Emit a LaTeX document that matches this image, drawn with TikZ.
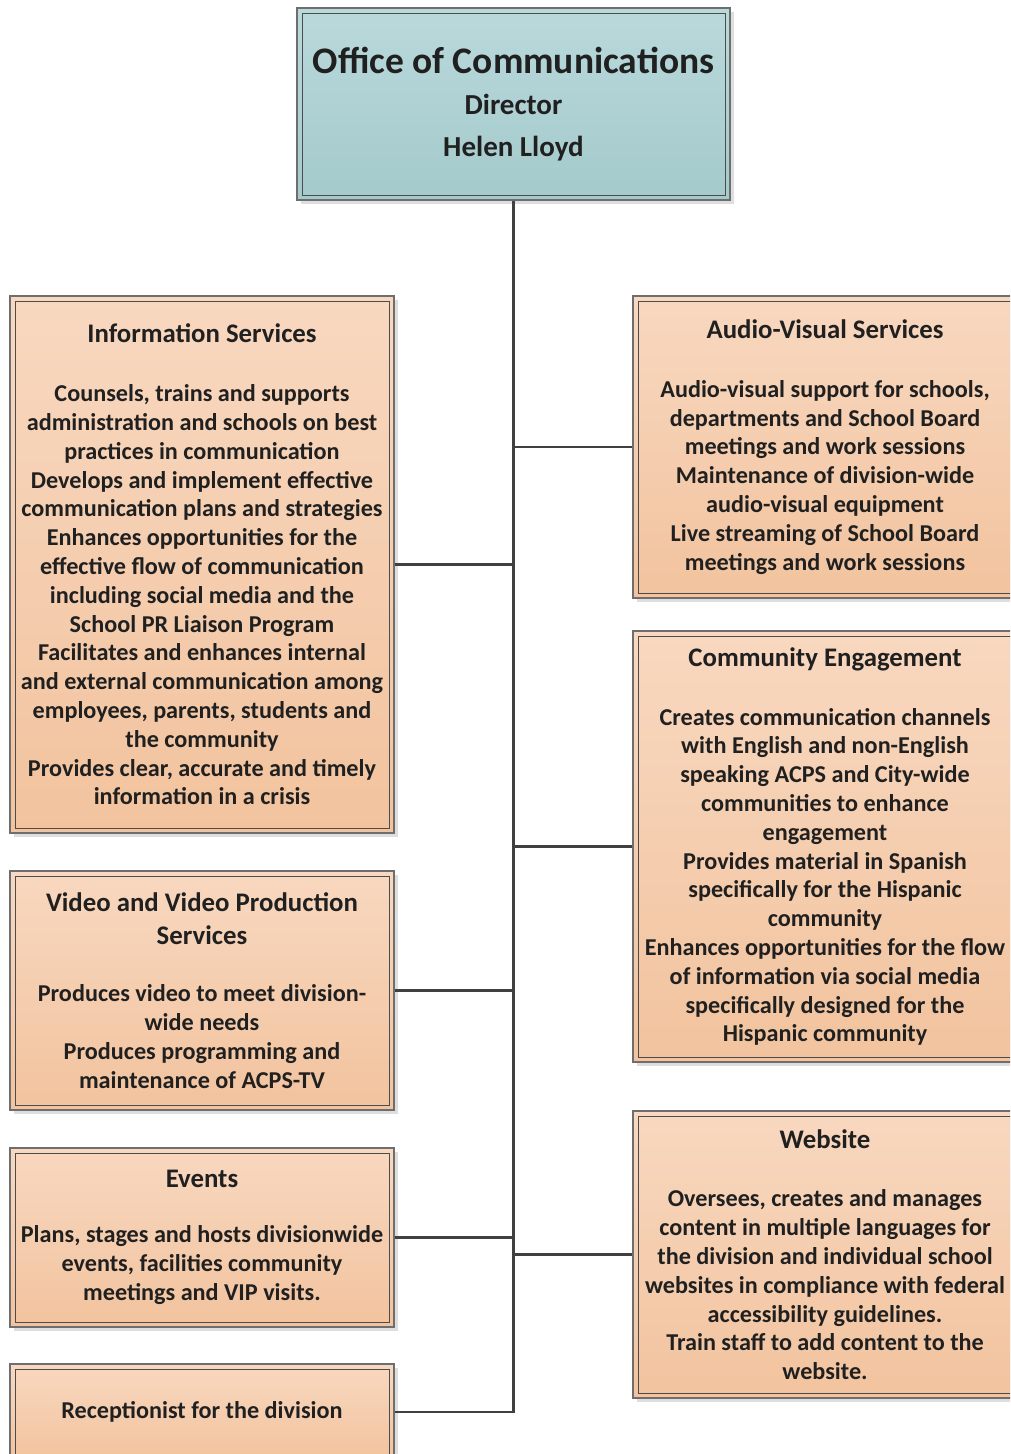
\documentclass[tikz,border=0pt]{standalone}
\usepackage{fontspec}
\setmainfont{Carlito}
\usetikzlibrary{positioning,calc,shadows}
\definecolor{TealTop}{RGB}{186,217,219}
\definecolor{TealBot}{RGB}{164,202,204}
\definecolor{PeachTop}{RGB}{248,216,192}
\definecolor{PeachBot}{RGB}{242,195,158}
\definecolor{EdgeGray}{RGB}{110,110,110}
\definecolor{LinkGray}{RGB}{64,64,64}
\definecolor{InkGray}{RGB}{32,32,32}
\newcommand\ttl[1]{{\fontsize{26.8}{28.8}\selectfont #1}}
\tikzset{
  framed/.style={rectangle,draw=EdgeGray,line width=1.5pt,inner sep=0pt,
    align=center,text=InkGray,
    general shadow={fill=black!13,shadow xshift=4pt,shadow yshift=-4pt},
    path picture={\draw[black!70,line width=1pt]
      ([shift={(5,5)}]path picture bounding box.north west) rectangle
      ([shift={(-5,-5)}]path picture bounding box.south east);}},
  unit/.style={framed,top color=PeachTop,bottom color=PeachBot,
    minimum width=384pt,font=\bfseries\fontsize{24.2}{28.8}\selectfont},
  head/.style={framed,top color=TealTop,bottom color=TealBot,
    minimum width=433pt,minimum height=192pt,
    font=\bfseries\fontsize{29}{41.5}\selectfont},
  link/.style={draw=LinkGray,line width=2.3pt},
}
\begin{document}
\begin{tikzpicture}[x=1pt,y=-1pt]
\clip (0,0) rectangle (1010,1454);
\node[head] (top) at (513.5,104) {{\fontsize{37.5}{41.5}\selectfont Office of Communications}\\Director\\Helen Lloyd};

\node[unit,minimum height=537pt] (info) at (202,564.5) {\ttl{Information Services}\\[30pt]
Counsels, trains and supports\\administration and schools on best\\practices in communication\\
Develops and implement effective\\communication plans and strategies\\
Enhances opportunities for the\\effective flow of communication\\including social media and the\\School PR Liaison Program\\
Facilitates and enhances internal\\and external communication among\\employees, parents, students and\\the community\\
Provides clear, accurate and timely\\information in a crisis};
\node[unit,minimum height=239pt] (video) at (202,990.5) {\ttl{Video and Video Production}\\[4pt]\ttl{Services}\\[29pt]
Produces video to meet division-\\wide needs\\Produces programming and\\maintenance of ACPS-TV};
\node[unit,minimum height=179pt] (events) at (202,1237.5) {\ttl{Events}\\[26pt]
Plans, stages and hosts divisionwide\\events, facilities community\\meetings and VIP visits.};
\node[unit,minimum height=96pt] (recep) at (202,1412) {Receptionist for the division};

\node[unit,minimum height=302pt] (av) at (825,447) {\ttl{Audio-Visual Services}\\[30pt]
Audio-visual support for schools,\\departments and School Board\\meetings and work sessions\\
Maintenance of division-wide\\audio-visual equipment\\
Live streaming of School Board\\meetings and work sessions};
\node[unit,minimum height=431pt] (comm) at (825,846.5) {\ttl{Community Engagement}\\[30pt]
Creates communication channels\\with English and non-English\\speaking ACPS and City-wide\\communities to enhance\\engagement\\
Provides material in Spanish\\specifically for the Hispanic\\community\\
Enhances opportunities for the flow\\of information via social media\\specifically designed for the\\Hispanic community};
\node[unit,minimum height=287pt] (web) at (825,1254.5) {\ttl{Website}\\[30pt]
Oversees, creates and manages\\content in multiple languages for\\the division and individual school\\websites in compliance with federal\\accessibility guidelines.\\
Train staff to add content to the\\website.};

\draw[link] (top.south) |- (recep.east);
\draw[link] (info.east) -- (info.east -| top.south);
\draw[link] (video.east) -- (video.east -| top.south);
\draw[link] (events.east) -- (events.east -| top.south);
\draw[link] (av.west) -- (av.west -| top.south);
\draw[link] (comm.west) -- (comm.west -| top.south);
\draw[link] (web.west) -- (web.west -| top.south);
\end{tikzpicture}
\end{document}
